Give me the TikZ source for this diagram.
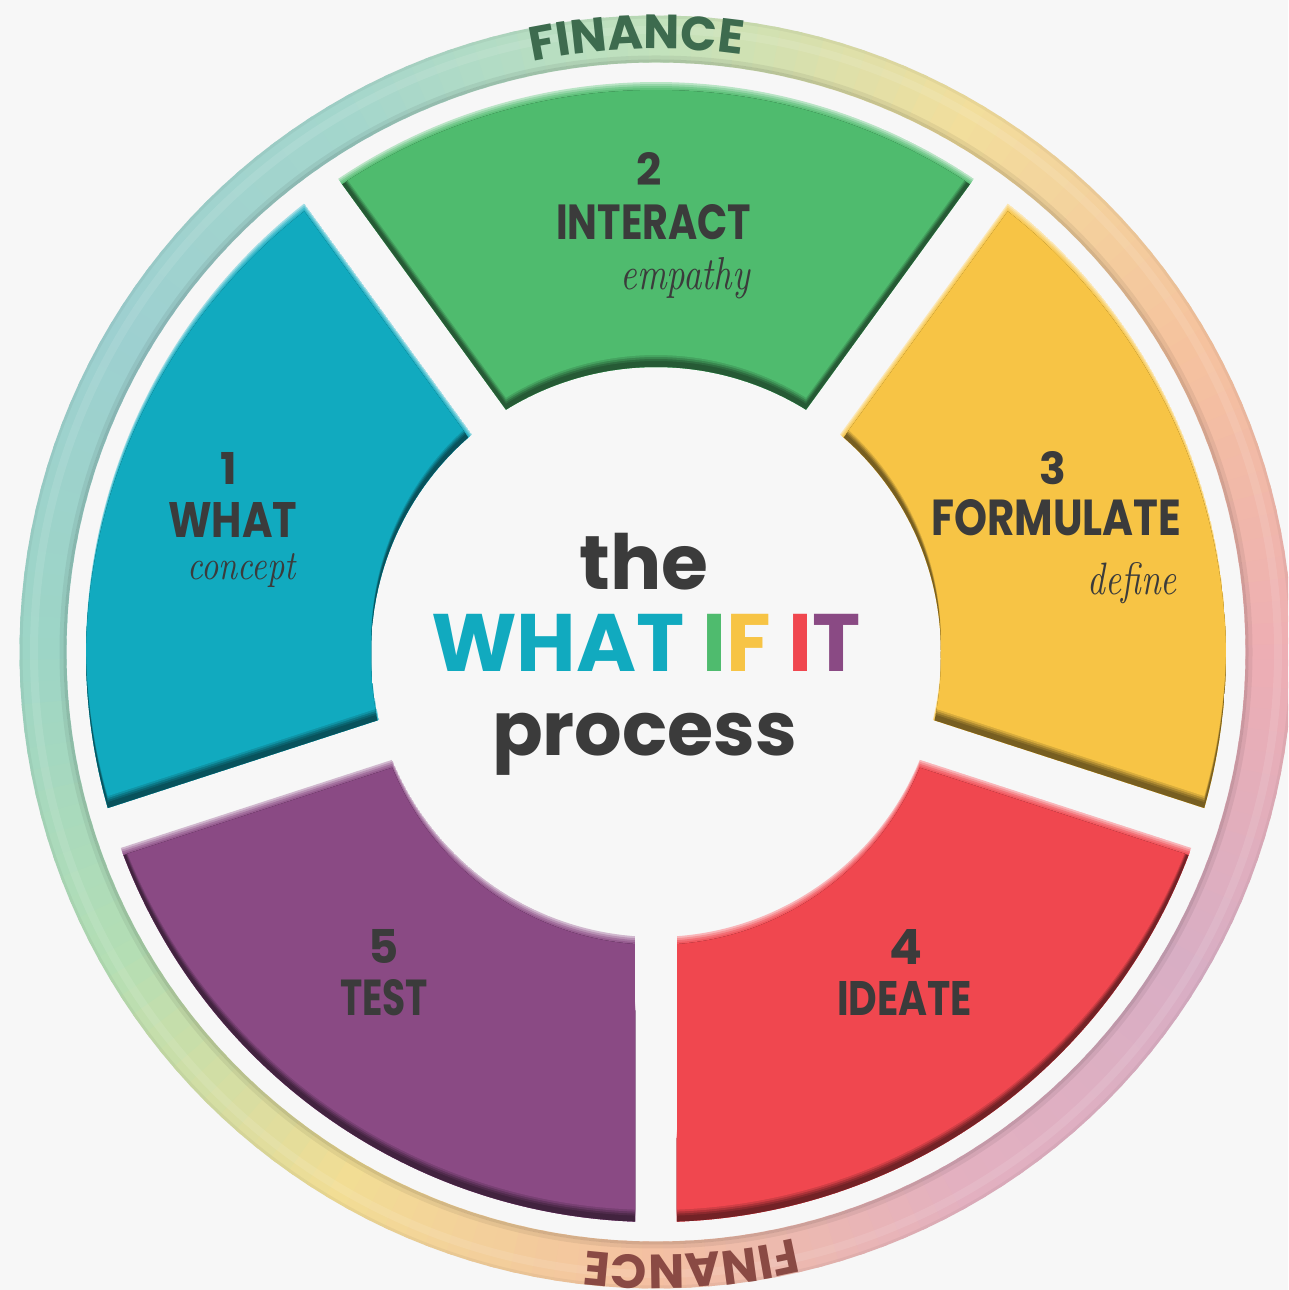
\documentclass[tikz,border=0pt]{standalone}
\usepackage{fontspec}
\usepackage{graphicx}
\usetikzlibrary{decorations.text}
\newfontfamily\pop{Poppins}
\definecolor{bg}{HTML}{F7F7F7}
\definecolor{txt}{HTML}{3B3B3B}
\definecolor{cteal}{HTML}{11AABF}
\definecolor{cgreen}{HTML}{4FBB6E}
\definecolor{cyellow}{HTML}{F7C445}
\definecolor{cred}{HTML}{F0474F}
\definecolor{cpurple}{HTML}{8A4A84}
\definecolor{fintop}{HTML}{3D6B4E}
\definecolor{finbot}{HTML}{8A4A44}
\definecolor{rc0}{HTML}{EDAEB4}
\definecolor{rc1}{HTML}{F5C29E}
\definecolor{rc2}{HTML}{F2DE9C}
\definecolor{rc3}{HTML}{C2E2BC}
\definecolor{rc4}{HTML}{A4D6CC}
\definecolor{rc5}{HTML}{9DD0D0}
\definecolor{rc6}{HTML}{9DD5C6}
\definecolor{rc7}{HTML}{B4DEB4}
\definecolor{rc8}{HTML}{F2DD94}
\definecolor{rc9}{HTML}{F4C0A2}
\definecolor{rc10}{HTML}{E3B0C0}
\definecolor{rc11}{HTML}{D8AEC4}
% annular sector with parallel gaps
\newcommand\segpath[1]{({#1+33.89}:570) arc[start angle={#1+33.89}, end angle={#1-33.89}, radius=570] -- ({#1-31.77}:285) arc[start angle={#1-31.77}, end angle={#1+31.77}, radius=285] -- cycle}
\newcommand\bevelseg[2]{%
  \begin{scope}
    \clip \segpath{#1};
    \fill[#2!40!white] \segpath{#1};
    \fill[#2!60!white, yshift=-2pt] \segpath{#1};
    \fill[#2!78!white, yshift=-4pt] \segpath{#1};
    \fill[#2!90!white, yshift=-6pt] \segpath{#1};
    \fill[#2!48!black, yshift=-8pt] \segpath{#1};
    \begin{scope}
      \clip[yshift=-8pt] \segpath{#1};
      \fill[#2!58!black, yshift=6pt] \segpath{#1};
      \fill[#2!72!black, yshift=8pt] \segpath{#1};
      \fill[#2!87!black, yshift=10pt] \segpath{#1};
      \fill[#2, yshift=12pt] \segpath{#1};
    \end{scope}
  \end{scope}}
\tikzset{
  lbl/.style={inner sep=0pt, text=txt, font=\pop\bfseries},
  ital/.style={inner sep=0pt, text=txt, font=\itshape}
}
\begin{document}
\begin{tikzpicture}[x=1pt,y=1pt]
\useasboundingbox (0,0) rectangle (1288,1290);
\clip (0,0) rectangle (1288,1290);
\fill[bg] (0,0) rectangle (1288,1290);
\begin{scope}[shift={(656,638)}]
  % outer ring with conic colours
  \foreach \k in {0,...,179}{
    \pgfmathtruncatemacro\a{2*\k}
    \pgfmathtruncatemacro\i{floor(\a/30)}
    \pgfmathtruncatemacro\j{mod(\i+1,12)}
    \pgfmathtruncatemacro\p{round(100*(\a-30*\i)/30)}
    \colorlet{ringc}{rc\j!\p!rc\i}
    \draw[ringc, line width=47] ({\a-1.3}:613) arc[start angle={\a-1.3}, end angle={\a+1.3}, radius=613];
  }
  \draw[white, opacity=0.10, line width=8] (0,0) circle (622);
  \draw[black, opacity=0.13, line width=3] (0,0) circle (591);
  \draw[black, opacity=0.06, line width=4] (0,0) circle (594.5);
  \draw[black, opacity=0.04, line width=3] (0,0) circle (635);
  % ring texts
  \path[decorate, decoration={text along path, text align=center, text color=fintop,
        text={|\pop\bfseries\fontsize{48}{48}\selectfont|FINANCE}}]
        (136.8:603) arc[start angle=136.8, end angle=46.8, radius=603];
  \path[decorate, decoration={text along path, text align=center, text color=finbot,
        text={|\pop\bfseries\fontsize{48}{48}\selectfont|FINANCE}}]
        (-41.7:603) arc[start angle=-41.7, end angle=-131.7, radius=603];
  % segments
  \bevelseg{162}{cteal}
  \bevelseg{90}{cgreen}
  \bevelseg{18}{cyellow}
  \bevelseg{-54}{cred}
  \bevelseg{-126}{cpurple}
\end{scope}
% segment labels
\node[lbl, anchor=base] (n2) at (649.5,1104) {\resizebox{!}{33pt}{2}};
\node[lbl, anchor=base west] (w2) at (556,1050) {\resizebox{195pt}{35pt}{INTERACT}};
\node[ital, anchor=base east] (i2) at (750,1000) {\resizebox{129pt}{32pt}{empathy}};
\node[lbl, anchor=base] (n1) at (229,805) {\resizebox{!}{32pt}{1}};
\node[lbl, anchor=base west] (w1) at (168,752) {\resizebox{129pt}{35pt}{WHAT}};
\node[ital, anchor=base east] (i1) at (296,710) {\resizebox{108pt}{26pt}{concept}};
\node[lbl, anchor=base] (n3) at (1052.5,805) {\resizebox{!}{33pt}{3}};
\node[lbl, anchor=base west] (w3) at (931,754) {\resizebox{250pt}{36pt}{FORMULATE}};
\node[ital, anchor=base east] (i3) at (1177,695) {\resizebox{89pt}{32pt}{define}};
\node[lbl, anchor=base] (n4) at (906,325) {\resizebox{!}{35pt}{4}};
\node[lbl, anchor=base west] (w4) at (837,274) {\resizebox{135pt}{34pt}{IDEATE}};
\node[lbl, anchor=base] (n5) at (383.5,326) {\resizebox{!}{34pt}{5}};
\node[lbl, anchor=base west] (w5) at (340,274) {\resizebox{88pt}{36pt}{TEST}};
% centre title
\node[lbl, anchor=base west] (the) at (579,700) {\resizebox{129pt}{!}{the}};
\node[lbl, anchor=base west] (wif) at (431,618) {\resizebox{429pt}{!}{\textcolor{cteal}{WHAT} \textcolor{cgreen}{I}\textcolor{cyellow}{F} \textcolor{cred}{I}\textcolor{cpurple}{T}}};
\node[lbl, anchor=base west] (proc) at (492,534) {\resizebox{305pt}{!}{process}};
\end{tikzpicture}
\end{document}
